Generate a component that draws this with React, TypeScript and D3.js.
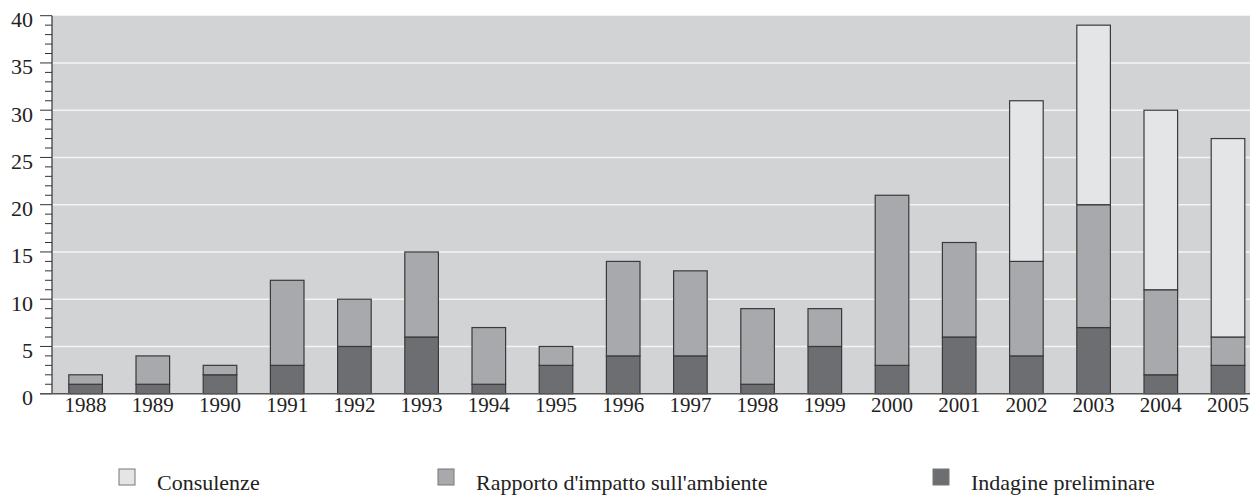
import React, { useRef, useEffect } from 'react';
import * as d3 from 'd3';

const years = ['1988', '1989', '1990', '1991', '1992', '1993', '1994', '1995', '1996',
  '1997', '1998', '1999', '2000', '2001', '2002', '2003', '2004', '2005'];
const indagine = [1, 1, 2, 3, 5, 6, 1, 3, 4, 4, 1, 5, 3, 6, 4, 7, 2, 3];
const rapporto = [1, 3, 1, 9, 5, 9, 6, 2, 10, 9, 8, 4, 18, 10, 10, 13, 9, 3];
const consulenze = [0, 0, 0, 0, 0, 0, 0, 0, 0, 0, 0, 0, 0, 0, 17, 19, 19, 21];
const seriesNames = ['Consulenze', "Rapporto d'impatto sull'ambiente", 'Indagine preliminare'];
const yTicks = [0, 5, 10, 15, 20, 25, 30, 35, 40];

const App = () => {
  const ref = useRef<SVGSVGElement>(null);
  const width = 1250;
  const height = 495;

  useEffect(() => {
    const svg = d3.select(ref.current);
    svg.selectAll('*').remove();

    const left = 52;
    const top = 15.7;
    const bottom = 393.7;
    const font = '"Liberation Serif", "Times New Roman", serif';

    const x = d3.scaleBand()
      .domain(years)
      .range([left, left + 18 * 67.2])
      .paddingInner(0.5)
      .paddingOuter(0.25);

    const y = d3.scaleLinear().domain([0, 40]).range([bottom, top]);

    const colors = { c: '#e4e5e7', r: '#a8a9ac', i: '#6d6e71' };

    // plot background
    svg.append('rect')
      .attr('x', left)
      .attr('y', y(40))
      .attr('width', width - left)
      .attr('height', y(0) - y(40))
      .attr('fill', '#d2d3d5');

    // gridlines
    svg.append('g')
      .selectAll('line')
      .data(yTicks.filter((d) => d > 0 && d < 40))
      .enter()
      .append('line')
      .attr('x1', left)
      .attr('x2', width)
      .attr('y1', (d) => y(d))
      .attr('y2', (d) => y(d))
      .attr('stroke', '#f4f4f4')
      .attr('stroke-width', 1.5);

    const rows = years.map((yr, k) => ({
      year: yr,
      i: indagine[k],
      r: rapporto[k],
      c: consulenze[k],
    }));
    const stack = d3.stack<any>().keys(['i', 'r', 'c'])(rows);

    const groups = svg.append('g')
      .selectAll('g')
      .data(stack)
      .enter()
      .append('g')
      .attr('fill', (s) => (colors as any)[s.key]);

    groups.selectAll('rect')
      .data((s) => s.filter((d) => d[1] - d[0] > 0))
      .enter()
      .append('rect')
      .attr('x', (d: any) => x(d.data.year) as number)
      .attr('width', x.bandwidth())
      .attr('y', (d) => y(d[1]))
      .attr('height', (d) => y(d[0]) - y(d[1]))
      .attr('stroke', '#3a3a3a')
      .attr('stroke-width', 1.2);

    // y axis
    const minor = d3.range(0, 41);
    svg.append('line')
      .attr('x1', left).attr('x2', left)
      .attr('y1', y(40)).attr('y2', y(0))
      .attr('stroke', '#333').attr('stroke-width', 1.2);
    svg.append('g')
      .selectAll('line')
      .data(minor)
      .enter()
      .append('line')
      .attr('x1', (d) => (d % 5 === 0 ? left - 12 : left - 7))
      .attr('x2', left)
      .attr('y1', (d) => y(d))
      .attr('y2', (d) => y(d))
      .attr('stroke', '#333')
      .attr('stroke-width', 1);
    svg.append('g')
      .selectAll('text')
      .data(yTicks)
      .enter()
      .append('text')
      .attr('x', 33)
      .attr('y', (d) => y(d) + 11.5)
      .attr('text-anchor', 'end')
      .attr('font-family', font)
      .attr('font-size', 22)
      .attr('fill', '#222')
      .text((d) => d);

    // baseline
    svg.append('line')
      .attr('x1', 40).attr('x2', width)
      .attr('y1', y(0)).attr('y2', y(0))
      .attr('stroke', '#555').attr('stroke-width', 1.5);

    // x labels
    svg.append('g')
      .selectAll('text')
      .data(years)
      .enter()
      .append('text')
      .attr('x', (d) => (x(d) as number) + x.bandwidth() / 2)
      .attr('y', 412)
      .attr('text-anchor', 'middle')
      .attr('font-family', font)
      .attr('font-size', 21)
      .attr('fill', '#222')
      .text((d) => d);

    // legend
    const legendX = [119, 438, 933];
    const legendColors = [colors.c, colors.r, colors.i];
    const legend = svg.append('g')
      .selectAll('g')
      .data(seriesNames)
      .enter()
      .append('g');
    legend.append('rect')
      .attr('x', (d, k) => legendX[k])
      .attr('y', 469)
      .attr('width', 16)
      .attr('height', 16)
      .attr('fill', (d, k) => legendColors[k])
      .attr('stroke', '#777')
      .attr('stroke-width', 1);
    legend.append('text')
      .attr('x', (d, k) => legendX[k] + 38)
      .attr('y', 490)
      .attr('font-family', font)
      .attr('font-size', 22)
      .attr('fill', '#222')
      .text((d) => d);
  }, []);

  return (
    <svg ref={ref} width={width} height={height}
      style={{ position: 'absolute', left: 0, top: 0, background: '#fff' }} />
  );
};

export default App;
